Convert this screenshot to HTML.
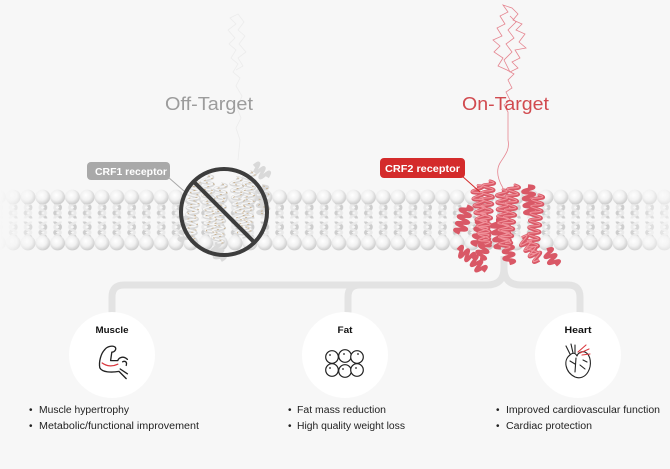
<!DOCTYPE html>
<html><head><meta charset="utf-8"><style>
html,body{margin:0;padding:0;background:#f7f7f7;}
svg{display:block;}
text{font-family:"Liberation Sans",sans-serif;}
</style></head><body>
<svg width="670" height="469" viewBox="0 0 670 469" xmlns="http://www.w3.org/2000/svg">
<defs>
  <radialGradient id="hg" cx="42%" cy="38%" r="62%">
    <stop offset="0" stop-color="#ffffff"/>
    <stop offset="0.55" stop-color="#f1f1f1"/>
    <stop offset="1" stop-color="#cbcbcb"/>
  </radialGradient>
  <pattern id="lip" patternUnits="userSpaceOnUse" x="20.6" y="180" width="14.8" height="80">
    <g transform="translate(7.4,17)">
      <path d="M-3 5 C-3 8 3 7 3 10.5 S-3 13 -3 16 S3 18 3 21.5" fill="none" stroke="#cdcdcd" stroke-width="2.8"/>
      <path d="M3 5 C3 8 -3 7 -3 10.5 S3 13 3 16 S-3 18 -3 21.5" fill="none" stroke="#e9e9e9" stroke-width="2.6"/>
      <path d="M-3 24.5 C-3 27.5 3 26.5 3 30 S-3 32.5 -3 35.5 S3 37.5 3 41" fill="none" stroke="#cdcdcd" stroke-width="2.8"/>
      <path d="M3 24.5 C3 27.5 -3 26.5 -3 30 S3 32.5 3 35.5 S-3 37.5 -3 41" fill="none" stroke="#e9e9e9" stroke-width="2.6"/>
      <circle cx="0" cy="0" r="7.4" fill="url(#hg)"/>
      <circle cx="0" cy="46" r="7.4" fill="url(#hg)"/>
    </g>
  </pattern>
  <linearGradient id="fade" x1="0" y1="0" x2="1" y2="0">
    <stop offset="0" stop-color="#fff" stop-opacity="0"/>
    <stop offset="0.07" stop-color="#fff" stop-opacity="1"/>
    <stop offset="0.93" stop-color="#fff" stop-opacity="1"/>
    <stop offset="1" stop-color="#fff" stop-opacity="0.35"/>
  </linearGradient>
  <mask id="m1"><rect x="0" y="0" width="670" height="469" fill="url(#fade)"/></mask>
  <path id="h1" d="M0 0 q11 1.75 0 3.5 t0 3.5 t0 3.5 t0 3.5 t0 3.5 t0 3.5 t0 3.5 t0 3.5 t0 3.5 t0 3.5 t0 3.5 t0 3.5 t0 3.5 t0 3.5 t0 3.5 t0 3.5 t0 3.5" fill="none"/>
  <path id="h2" d="M0 0 q11 1.75 0 3.5 t0 3.5 t0 3.5 t0 3.5 t0 3.5 t0 3.5 t0 3.5 t0 3.5" fill="none"/>
  <path id="h3" d="M0 0 q10 1.75 0 3.5 t0 3.5 t0 3.5 t0 3.5 t0 3.5" fill="none"/>
</defs>

<!-- faint off-target peptide -->
<path d="M238 160 L240 140 L236 128 L241 118 L237 108 L242 96 L236 86 L240 78 L233 72 L238 64 L231 58 L236 50 L229 44 L235 38 L228 30 L236 24 L230 18 L238 14 L244 22 L238 30 L245 36 L239 44 L246 52 L238 58 L243 66 L236 70" fill="none" stroke="#ececec" stroke-width="0.8"/>

<!-- on-target peptide -->
<path d="M503 188 C497 178 496 170 500 163 C505 155 510 150 508 140 L508 112 L504 105 L510 100 L506 92 L512 88 L508 80 L514 74 L507 70 L498 66 L503 58 L494 52 L500 46 L493 40 L502 36 L497 28 L505 24 L500 16 L508 12 L503 5 L512 8 L518 14 L513 20 L522 24 L516 30 L525 34 L519 42 L526 48 L515 50 L520 58 L512 62 L518 68 L510 72 L504 60 L512 52 L506 44 L514 38 L508 30 L516 22 L510 16" fill="none" stroke="#e58590" stroke-width="0.8"/>

<!-- membrane -->
<rect x="0" y="180" width="670" height="80" fill="url(#lip)" mask="url(#m1)"/>

<!-- connector -->
<g fill="none" stroke="#e3e3e3" stroke-width="7">
  <path d="M112 320 V297 Q112 285 124 285 H487 Q504 285 504 268 V256"/>
  <path d="M504 256 V268 Q504 285 521 285 H568 Q580 285 580 297 V320"/>
  <path d="M348 320 V297 Q348 285 360 285"/>
</g>

<!-- off-target receptor -->
<g stroke="#d9d9d9" stroke-width="3.4">
  <use href="#h1" transform="translate(195,182) rotate(5)"/>
  <use href="#h1" transform="translate(207,176) rotate(-4)"/>
  <use href="#h1" transform="translate(221,184) rotate(3)"/>
  <use href="#h1" transform="translate(236,178) rotate(-6)"/>
  <use href="#h1" transform="translate(250,172) rotate(4)"/>
  <use href="#h2" transform="translate(262,186) rotate(-3)"/>
  <use href="#h2" transform="translate(189,214) rotate(10)"/>
  <use href="#h3" transform="translate(215,244) rotate(-20)"/>
  <use href="#h3" transform="translate(254,166) rotate(-50)"/>
</g>
<g stroke="#f6f6f6" stroke-width="1.4">
  <use href="#h1" transform="translate(194.5,181.5) rotate(5)"/>
  <use href="#h1" transform="translate(206.5,175.5) rotate(-4)"/>
  <use href="#h1" transform="translate(220.5,183.5) rotate(3)"/>
  <use href="#h1" transform="translate(235.5,177.5) rotate(-6)"/>
  <use href="#h1" transform="translate(249.5,171.5) rotate(4)"/>
</g>
<g stroke="#c4ab86" stroke-width="0.8" stroke-dasharray="2 5">
  <use href="#h1" transform="translate(196,180) rotate(5)"/>
  <use href="#h1" transform="translate(208,176) rotate(-4)"/>
  <use href="#h1" transform="translate(222,184) rotate(3)"/>
  <use href="#h1" transform="translate(237,178) rotate(-6)"/>
  <use href="#h1" transform="translate(251,172) rotate(4)"/>
  <use href="#h2" transform="translate(263,186) rotate(-3)"/>
</g>
<circle cx="224" cy="212" r="43" fill="none" stroke="#3d3d3d" stroke-width="4"/>
<line x1="193.6" y1="181.6" x2="254.4" y2="242.4" stroke="#3d3d3d" stroke-width="4"/>

<!-- on-target receptor -->
<g stroke="#d95866" stroke-width="3.6">
  <use href="#h1" transform="translate(477,186) rotate(-8)"/>
  <use href="#h1" transform="translate(489,181) rotate(5)"/>
  <use href="#h1" transform="translate(502,190) rotate(-3)"/>
  <use href="#h1" transform="translate(514,185) rotate(8)"/>
  <use href="#h2" transform="translate(528,186) rotate(-5)"/>
  <use href="#h1" transform="translate(538,195) rotate(6)"/>
  <use href="#h2" transform="translate(467,206) rotate(15)"/>
  <use href="#h2" transform="translate(496,220) rotate(-10)"/>
  <use href="#h2" transform="translate(483,218) rotate(12)"/>
  <use href="#h3" transform="translate(458,250) rotate(-60)"/>
  <use href="#h3" transform="translate(472,258) rotate(-40)"/>
  <use href="#h2" transform="translate(522,238) rotate(-38)"/>
  <use href="#h3" transform="translate(547,250) rotate(-30)"/>
  <use href="#h3" transform="translate(486,242) rotate(20)"/>
  <use href="#h3" transform="translate(508,246) rotate(-5)"/>
</g>
<g stroke="#f0929b" stroke-width="1.2">
  <use href="#h1" transform="translate(476.5,185.5) rotate(-8)"/>
  <use href="#h1" transform="translate(488.5,180.5) rotate(5)"/>
  <use href="#h1" transform="translate(501.5,189.5) rotate(-3)"/>
  <use href="#h1" transform="translate(513.5,184.5) rotate(8)"/>
  <use href="#h1" transform="translate(537.5,194.5) rotate(6)"/>
  <use href="#h2" transform="translate(521.5,237.5) rotate(-38)"/>
</g>

<!-- labels -->
<line x1="168" y1="177" x2="184" y2="191" stroke="#a9a9a9" stroke-width="1"/>
<rect x="87" y="162" width="83" height="18" rx="4" fill="#a9a9a9"/>
<text x="95" y="175" font-size="10.5" font-weight="bold" fill="#fff" textLength="72" lengthAdjust="spacingAndGlyphs">CRF1 receptor</text>

<line x1="462" y1="176" x2="480" y2="192" stroke="#d42b2b" stroke-width="1"/>
<rect x="380" y="158" width="85" height="20" rx="4" fill="#d42b2b"/>
<text x="385" y="172" font-size="10.5" font-weight="bold" fill="#fff" textLength="75" lengthAdjust="spacingAndGlyphs">CRF2 receptor</text>

<text x="165" y="110" font-size="18" fill="#9c9c9c" textLength="88" lengthAdjust="spacingAndGlyphs">Off-Target</text>
<text x="462" y="110" font-size="18" fill="#d14a4f" textLength="87" lengthAdjust="spacingAndGlyphs">On-Target</text>

<!-- circles -->
<circle cx="112" cy="355" r="43" fill="#fff"/>
<circle cx="345" cy="355" r="43" fill="#fff"/>
<circle cx="578" cy="355" r="43" fill="#fff"/>

<text x="112" y="333" font-size="9" font-weight="bold" fill="#111" text-anchor="middle" textLength="33" lengthAdjust="spacingAndGlyphs">Muscle</text>
<text x="345" y="333" font-size="9" font-weight="bold" fill="#111" text-anchor="middle" textLength="15" lengthAdjust="spacingAndGlyphs">Fat</text>
<text x="578" y="333" font-size="9" font-weight="bold" fill="#111" text-anchor="middle" textLength="27" lengthAdjust="spacingAndGlyphs">Heart</text>

<!-- muscle icon -->
<g transform="translate(113,363) scale(1.2) translate(-113,-363)">
<g fill="none" stroke="#222" stroke-width="1.1" stroke-linecap="round" stroke-linejoin="round">
  <path d="M106 352 C108 349 113 348 115 350 C116 352 114 354 112 354 L111 361 L117 361 C118 358 122 357 125 360"/>
  <path d="M121 362 C123 361 125 362 124 365"/>
  <path d="M106 352 C103 355 101 362 102 367 C104 371 112 371 118 370 L124 376"/>
  <path d="M119 368 L125 372"/>
</g>
<path d="M104 363 C108 366 113 366 117 364" fill="none" stroke="#d9383e" stroke-width="1.1" stroke-linecap="round"/>
</g>

<!-- fat icon -->
<g fill="#fff" stroke="#222" stroke-width="1.2">
  <circle cx="332" cy="357" r="6.3"/><circle cx="345" cy="356" r="6.3"/><circle cx="357" cy="357" r="6.3"/>
  <circle cx="332" cy="370" r="6.3"/><circle cx="345" cy="371" r="6.3"/><circle cx="357" cy="370" r="6.3"/>
</g>
<g fill="#222">
  <circle cx="330" cy="355" r="0.9"/><circle cx="344" cy="354" r="0.9"/><circle cx="358" cy="354" r="0.9"/>
  <circle cx="330" cy="368" r="0.9"/><circle cx="343" cy="369" r="0.9"/><circle cx="356" cy="368" r="0.9"/>
</g>

<!-- heart icon -->
<g fill="none" stroke="#222" stroke-width="1.1" stroke-linecap="round" stroke-linejoin="round">
  <path d="M570 355 C563 360 565 372 575 377 C580 379 585 377 588 372 C592 365 591 355 585 352 C581 351 578 353 577 356 C575 352 572 353 570 355 Z"/>
  <path d="M576 358 L575 372 M575 364 L570 361 M580 365 L585 369 M583 360 L587 362"/>
  <path d="M570 354 L566 346 M573 353 L571 344 M575 353 L575 345"/>
</g>
<path d="M578 352 L586 345 M580 353 L589 349 M582 355 L590 354" fill="none" stroke="#d9383e" stroke-width="1.1" stroke-linecap="round"/>

<!-- bullets -->
<g font-size="10" fill="#222">
  <text x="29" y="413">•</text>
  <text x="39" y="413" textLength="90" lengthAdjust="spacingAndGlyphs">Muscle hypertrophy</text>
  <text x="29" y="429">•</text>
  <text x="39" y="429" textLength="160" lengthAdjust="spacingAndGlyphs">Metabolic/functional improvement</text>

  <text x="288" y="413">•</text>
  <text x="297" y="413" textLength="89" lengthAdjust="spacingAndGlyphs">Fat mass reduction</text>
  <text x="288" y="429">•</text>
  <text x="297" y="429" textLength="108" lengthAdjust="spacingAndGlyphs">High quality weight loss</text>

  <text x="496" y="413">•</text>
  <text x="506" y="413" textLength="154" lengthAdjust="spacingAndGlyphs">Improved cardiovascular function</text>
  <text x="496" y="429">•</text>
  <text x="506" y="429" textLength="86" lengthAdjust="spacingAndGlyphs">Cardiac protection</text>
</g>
</svg>
</body></html>
